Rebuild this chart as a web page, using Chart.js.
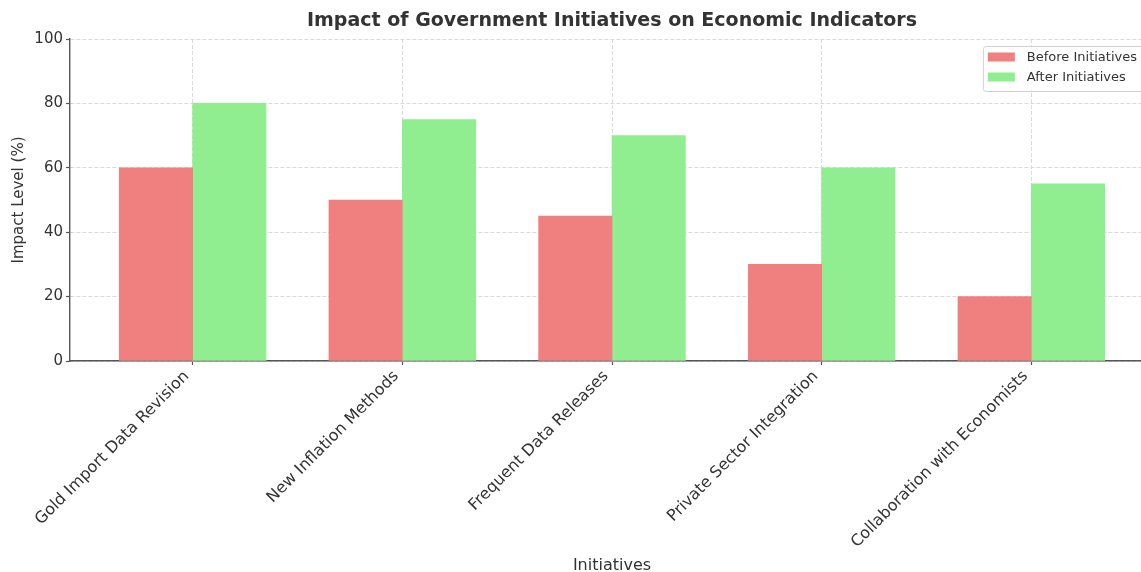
<!DOCTYPE html>
<html>
<head>
<meta charset="utf-8">
<script src="https://cdn.jsdelivr.net/npm/chart.js@4.4.1/dist/chart.umd.min.js"></script>
<style>
  html, body { margin: 0; padding: 0; background: #fff; overflow: hidden; }
  #wrap { width: 1141px; height: 572px; overflow: hidden; position: relative; }
  canvas { position: absolute; left: 0; top: 0; }
</style>
</head>
<body>
<div id="wrap"><canvas id="c" width="1170" height="575"></canvas></div>
<script>
const categories = [
  "Gold Import Data Revision",
  "New Inflation Methods",
  "Frequent Data Releases",
  "Private Sector Integration",
  "Collaboration with Economists"
];
const beforeValues = [60, 50, 45, 30, 20];
const afterValues = [80, 75, 70, 60, 55];
const seriesNames = ["Before Initiatives", "After Initiatives"];
const yTicks = [0, 20, 40, 60, 80, 100];

const FONT = "'DejaVu Sans', sans-serif";
const TEXT = "#333333";
const GRID = "#dadada";
const SPINE = "#555555";
const BAR_W = 0.35;

const legendPlugin = {
  id: 'boxLegend',
  afterDraw(chart) {
    const ctx = chart.ctx;
    const ca = chart.chartArea;
    ctx.save();
    ctx.font = "13px " + FONT;
    const labels = chart.data.datasets.map(d => d.label);
    const tw = Math.max(...labels.map(l => ctx.measureText(l).width));
    const sw = 27, sh = 9, padL = 5, gap = 12, padR = 11;
    const w = padL + sw + gap + tw + padR;
    const h = 45;
    const right = ca.right - 6;
    const left = right - w;
    const top = ca.top + 7;
    ctx.fillStyle = "rgba(255,255,255,0.8)";
    ctx.strokeStyle = "#d0d0d0";
    ctx.lineWidth = 1;
    ctx.beginPath();
    ctx.roundRect(left + 0.5, top + 0.5, w, h, 3);
    ctx.fill();
    ctx.stroke();
    chart.data.datasets.forEach((d, i) => {
      const cy = top + 11 + i * 20;
      ctx.fillStyle = d.backgroundColor;
      ctx.fillRect(left + padL, cy - sh / 2, sw, sh);
      ctx.fillStyle = TEXT;
      ctx.textBaseline = "middle";
      ctx.textAlign = "left";
      ctx.fillText(d.label, left + padL + sw + gap, cy + 0.5);
    });
    ctx.restore();
  }
};

const ctx = document.getElementById('c').getContext('2d');
new Chart(ctx, {
  type: 'bar',
  data: {
    datasets: [
      {
        label: seriesNames[0],
        data: beforeValues.map((v, i) => ({ x: i - BAR_W / 2, y: v })),
        backgroundColor: '#F08080'
      },
      {
        label: seriesNames[1],
        data: afterValues.map((v, i) => ({ x: i + BAR_W / 2, y: v })),
        backgroundColor: '#90EE90'
      }
    ]
  },
  options: {
    responsive: false,
    animation: false,
    devicePixelRatio: 1,
    layout: { padding: { left: 0, right: 16, top: 0, bottom: 0 } },
    datasets: {
      bar: { grouped: false, categoryPercentage: 1, barPercentage: 1, borderWidth: 0 }
    },
    plugins: {
      legend: { display: false },
      tooltip: { enabled: false },
      title: {
        display: true,
        fullSize: false,
        text: 'Impact of Government Initiatives on Economic Indicators',
        color: TEXT,
        font: { family: FONT, size: 19, weight: 'bold' },
        padding: { top: 10, bottom: 6.2 }
      }
    },
    scales: {
      x: {
        type: 'linear',
        offset: false,
        min: -0.585,
        max: categories.length - 1 + 0.585,
        afterBuildTicks(scale) {
          scale.ticks = categories.map((c, i) => ({ value: i }));
        },
        afterFit(scale) { scale.height = 214; },
        ticks: {
          autoSkip: false,
          maxRotation: 45,
          minRotation: 45,
          padding: 2,
          labelOffset: -6,
          color: TEXT,
          font: { family: FONT, size: 16 },
          callback: (v) => categories[v] !== undefined ? categories[v] : ''
        },
        grid: {
          offset: false,
          color: GRID,
          tickColor: SPINE,
          tickLength: 4,
          tickWidth: 1.2,
          tickBorderDash: []
        },
        border: { display: true, color: SPINE, width: 1.4, dash: [4, 2] },
        title: {
          display: true,
          text: 'Initiatives',
          color: TEXT,
          font: { family: FONT, size: 16 },
          padding: { top: 0, bottom: 0 }
        }
      },
      y: {
        min: 0,
        max: 100,
        afterBuildTicks(scale) {
          scale.ticks = yTicks.map(v => ({ value: v }));
        },
        afterFit(scale) { scale.width = 70; },
        ticks: {
          padding: 3,
          color: TEXT,
          font: { family: FONT, size: 15 }
        },
        grid: {
          color: GRID,
          tickColor: SPINE,
          tickLength: 4,
          tickWidth: 1.2,
          tickBorderDash: []
        },
        border: { display: true, color: SPINE, width: 1.4, dash: [4, 2] },
        title: {
          display: true,
          text: 'Impact Level (%)',
          color: TEXT,
          font: { family: FONT, size: 15 },
          padding: { top: 10, bottom: 0 }
        }
      }
    }
  },
  plugins: [legendPlugin]
});
</script>
</body>
</html>
